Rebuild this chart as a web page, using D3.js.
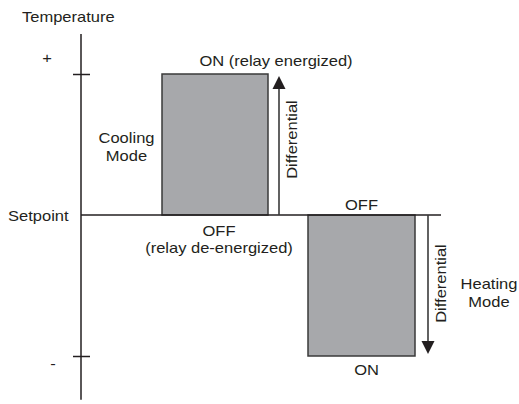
<!DOCTYPE html>
<html>
<head>
<meta charset="utf-8">
<script src="https://cdn.jsdelivr.net/npm/d3@7"></script>
<style>
  body { margin: 0; background: #fff; }
  svg { display: block; font-family: "Liberation Sans", Arial, sans-serif; }
  text { fill: #231f20; font-size: 14px; }
</style>
</head>
<body>
<div id="chart"></div>
<script>
// relative temperature levels: +1 = setpoint + differential, 0 = setpoint, -1 = setpoint - differential
const tickValues = [1, -1];
const tickLabels = ["+", "-"];
const setpointValue = 0;
const setpointLabel = "Setpoint";
const axisTitle = "Temperature";

const modes = ["Cooling", "Heating"];
const modeLabels = [["Cooling", "Mode"], ["Heating", "Mode"]];
const modeOn = [1, -1];       // level where relay turns on
const modeOff = [0, 0];       // level where relay turns off
const modeX0 = [81, 227];     // horizontal extent of each mode band
const modeX1 = [187, 334];
const arrowX = [198, 347];
const onLabels = [["ON (relay energized)"], ["ON"]];
const offLabels = [["OFF", "(relay de-energized)"], ["OFF"]];
const differentialLabel = "Differential";

const width = 519, height = 404;
const stretch = 1.18;

const x = d3.scaleLinear().domain([0, 360]).range([81, 441]);
const y = d3.scaleLinear().domain([-1, 1]).range([356, 74]);

const svg = d3.select("#chart").append("svg")
  .attr("width", width)
  .attr("height", height);

function label(g, txt, px, py, anchor, rotate) {
  return g.append("text")
    .attr("text-anchor", anchor)
    .attr("transform", `translate(${px},${py})${rotate ? " rotate(-90)" : ""} scale(${stretch},1)`)
    .text(txt);
}

// grey mode bands
const data = modes.map((m, i) => ({
  mode: m, on: modeOn[i], off: modeOff[i],
  x0: modeX0[i], x1: modeX1[i], ax: arrowX[i]
}));

svg.append("g")
  .selectAll("rect")
  .data(data)
  .join("rect")
  .attr("x", d => x(d.x0))
  .attr("width", d => x(d.x1) - x(d.x0))
  .attr("y", d => y(Math.max(d.on, d.off)))
  .attr("height", d => Math.abs(y(d.on) - y(d.off)))
  .attr("fill", "#a7a8ab")
  .attr("stroke", "#3a3a3a")
  .attr("stroke-width", 1.5);

// setpoint line
svg.append("line")
  .attr("x1", x(0)).attr("x2", x(360))
  .attr("y1", y(setpointValue)).attr("y2", y(setpointValue))
  .attr("stroke", "#231f20")
  .attr("stroke-width", 1.5);

// vertical axis
const gAxis = svg.append("g")
  .attr("transform", `translate(${x(0)},0)`)
  .call(d3.axisLeft(y).tickValues(tickValues).tickSize(0).tickFormat(""))
  .call(g => g.select(".domain").remove());

gAxis.append("line")
  .attr("y1", y(1.284)).attr("y2", y(-1.31))
  .attr("stroke", "#231f20")
  .attr("stroke-width", 1.5);

gAxis.selectAll(".tick line")
  .attr("x1", -8).attr("x2", 9)
  .attr("stroke", "#231f20")
  .attr("stroke-width", 1.5);

gAxis.selectAll(".tick").each(function (d, i) {
  const t = d3.select(this);
  t.select("text").remove();
  label(t, tickLabels[i], i === 0 ? -34 : -28, i === 0 ? -12 : 12, "middle");
});

// differential arrows
const gArrow = svg.append("g");
data.forEach(d => {
  const dir = Math.sign(d.on - d.off);
  const tip = y(d.on) - dir * -2;
  const base = tip + dir * 13;
  gArrow.append("line")
    .attr("x1", x(d.ax)).attr("x2", x(d.ax))
    .attr("y1", y(d.off)).attr("y2", base)
    .attr("stroke", "#3a3a3a")
    .attr("stroke-width", 1.6);
  gArrow.append("path")
    .attr("d", `M${x(d.ax) - 6.5},${base}L${x(d.ax) + 6.5},${base}L${x(d.ax)},${tip}Z`)
    .attr("fill", "#231f20");
  const mid = (y(d.on) + y(d.off)) / 2 + (dir > 0 ? -5 : -2);
  label(gArrow, differentialLabel, x(d.ax) + 18, mid, "middle", true);
});

// text labels
const gText = svg.append("g");
label(gText, axisTitle, 22, 22, "start");
label(gText, setpointLabel, 8, 221, "start");

// cooling
label(gText, onLabels[0][0], (x(modeX0[0]) + x(modeX1[0])) / 2 + 61, y(modeOn[0]) - 8, "middle");
offLabels[0].forEach((t, j) =>
  label(gText, t, (x(modeX0[0]) + x(modeX1[0])) / 2 + 4, y(modeOff[0]) + 21 + j * 17, "middle"));
modeLabels[0].forEach((t, j) =>
  label(gText, t, 126.5, 143 + j * 18, "middle"));

// heating
label(gText, offLabels[1][0], (x(modeX0[1]) + x(modeX1[1])) / 2, y(modeOff[1]) - 5, "middle");
label(gText, onLabels[1][0], (x(modeX0[1]) + x(modeX1[1])) / 2 + 5, y(modeOn[1]) + 19, "middle");
modeLabels[1].forEach((t, j) =>
  label(gText, t, 489, 289 + j * 18, "middle"));
</script>
</body>
</html>
